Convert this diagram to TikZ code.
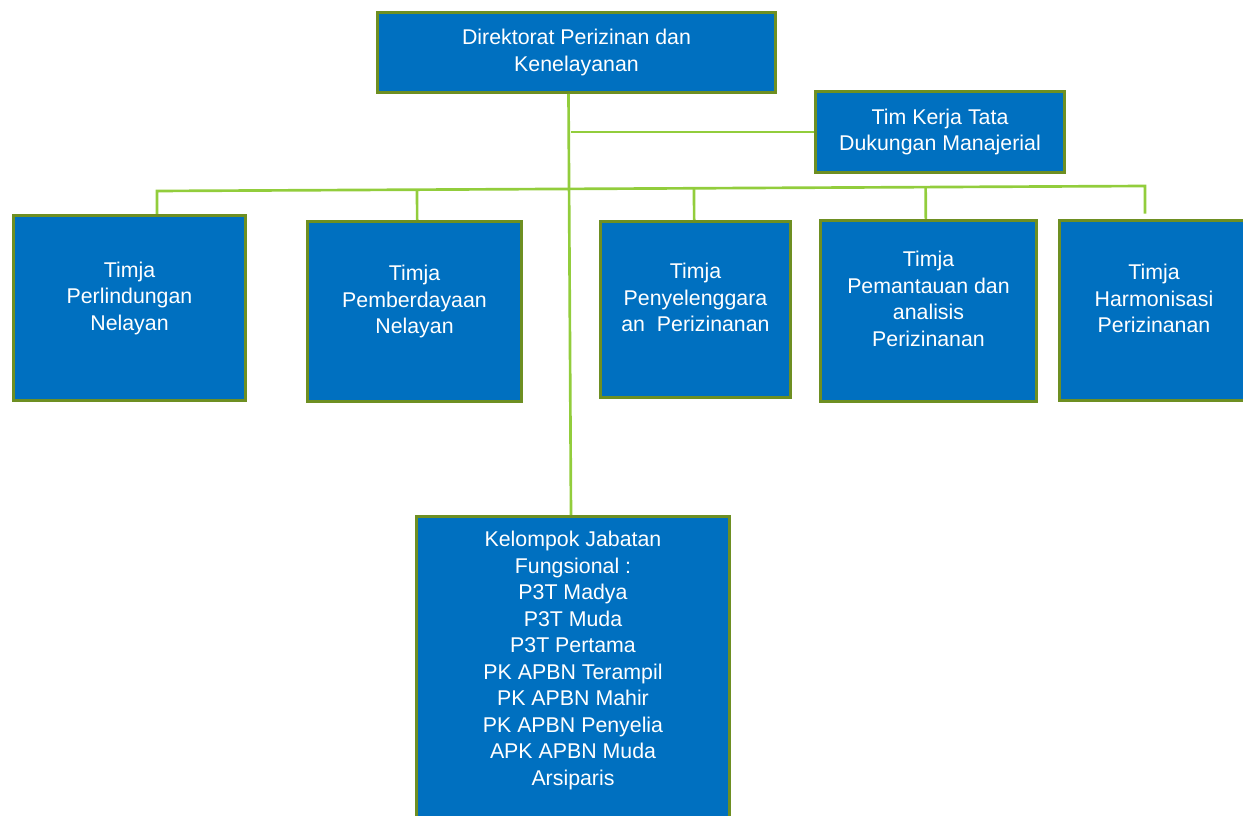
\documentclass[tikz,border=0pt]{standalone}
\usepackage{fontspec}
\setmainfont{Liberation Sans}
\usepackage{tikz}
\usetikzlibrary{calc}
\definecolor{boxblue}{HTML}{0070C0}
\definecolor{boxrim}{HTML}{6E8F22}
\definecolor{linkgreen}{HTML}{92CD3C}
\newcommand{\pad}[1]{\rule[-#1]{0pt}{0pt}}

\begin{document}
\begin{tikzpicture}[x=0.75pt, y=-0.75pt,
  box/.style={draw=boxrim, line width=2.25pt, fill=boxblue, text=white, align=center, inner sep=0pt, font=\fontsize{16pt}{19.9pt}\selectfont},
  link/.style={draw=linkgreen, line width=2pt}]
\path[use as bounding box] (0,0) rectangle (1243,816);
\clip (0,0) rectangle (1243,816);
\node[box, minimum width=298.5pt, minimum height=60pt] (dir) at (576.5,52.5) {Direktorat Perizinan dan\\Kenelayanan};
\node[box, minimum width=186.75pt, minimum height=60.75pt] (tim) at (940,132) {Tim Kerja Tata\\Dukungan Manajerial};
\node[box, minimum width=174pt, minimum height=138.75pt] (p1) at (129.5,308) {Timja\\Perlindungan\\Nelayan\pad{18pt}};
\node[box, minimum width=160.5pt, minimum height=135pt] (p2) at (414.5,311.5) {Timja\\Pemberdayaan\\Nelayan\pad{18pt}};
\node[box, minimum width=142.5pt, minimum height=132pt] (p3) at (695.5,309.5) {Timja\\Penyelenggara\\an~~Perizinanan\pad{18pt}};
\node[box, minimum width=162pt, minimum height=135.75pt] (p4) at (928.5,311) {Timja\\Pemantauan dan\\analisis\\Perizinanan\pad{18pt}};
\node[box, minimum width=142.5pt, minimum height=135pt] (p5) at (1154,310.5) {Timja\\Harmonisasi\\Perizinanan\pad{18pt}};
\node[box, minimum width=234.75pt, minimum height=247.5pt] (fung) at (573,681.5) {Kelompok Jabatan\\Fungsional :\\P3T Madya\\P3T Muda\\P3T Pertama\\PK APBN Terampil\\PK APBN Mahir\\PK APBN Penyelia\\APK APBN Muda\\Arsiparis\pad{35pt}};
\coordinate (busL) at (157,191);
\coordinate (busR) at (1145,186);
\draw[link] ([xshift=-6pt]dir.south) -- ([xshift=-1.5pt]fung.north);
\draw[link] (tim.west) -- ++(-243,0);
\draw[link, shorten >=4pt] (p1.north -| busL) -- (busL) -- (busR) -- (p5.north -| busR);
\foreach \n/\dx in {p2/2pt,p3/-1pt,p4/-2pt}
  \draw[link] ([xshift=\dx]\n.north) -- ($(busL)!([xshift=\dx]\n.north)!(busR)$);
\end{tikzpicture}
\end{document}
